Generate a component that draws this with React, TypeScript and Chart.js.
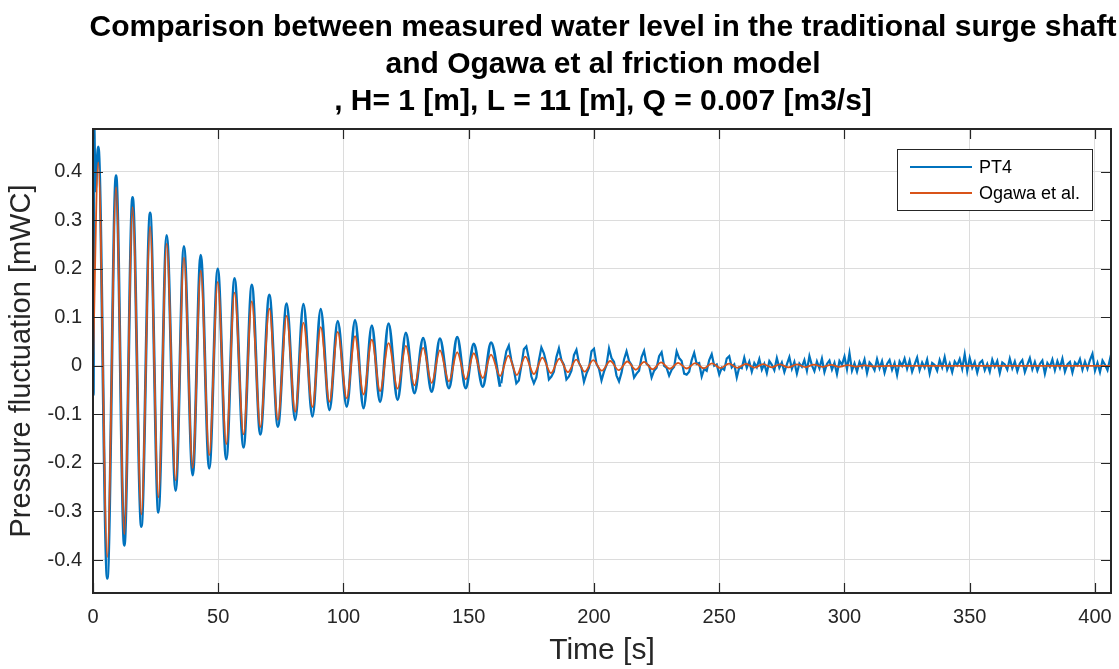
import React, { useEffect, useRef } from 'react';
import { Chart, registerables } from 'chart.js';

Chart.register(...registerables);

// ---------- data ----------
const titleLines = [
  'Comparison between measured water level in the traditional surge shaft',
  'and Ogawa et al friction model',
  ', H= 1 [m], L = 11 [m], Q = 0.007 [m3/s]',
];
const xLabel = 'Time [s]';
const yLabel = 'Pressure fluctuation [mWC]';
const legendLabels = ['PT4', 'Ogawa et al.'];

const xMin = 0;
const xMax = 406.4;
const xStep = 50;
const yMin = -0.468;
const yMax = 0.488;
const yStep = 0.1;

// Ogawa et al. model: extrema (peak / trough) times [s] and values [mWC]
const ogawaTimes = [
  0, 2.1, 5.7, 9.2, 12.5, 15.8, 19.3, 22.8, 26.1, 29.4, 33.0, 36.3, 39.8, 43.0, 46.4, 49.8, 53.2, 56.5, 60.1, 63.4,
  66.8, 70.4, 73.8, 77.3, 80.7, 84.0, 87.6, 90.9, 94.4, 97.7, 101.3, 104.6, 108.0, 111.3, 114.6, 118.0, 121.6, 124.9,
  128.3, 131.8, 135.2, 138.5, 142.1, 145.4, 148.8, 152.0, 155.6, 158.9, 162.5, 165.8, 169.2, 172.6, 176.0, 179.4,
  182.8, 186.2, 189.6, 192.9, 196.3, 199.7, 203.1, 206.5, 209.9, 213.3, 216.7, 220.0, 223.4, 226.8, 230.2, 233.6,
  237.0, 240.4, 243.8, 247.1, 250.5, 253.9, 257.3, 260.7, 264.1, 267.5, 270.9, 274.2, 277.6, 281.0, 284.4, 287.8,
  291.2, 294.6, 298.0, 301.3, 304.7, 308.1, 311.5, 318, 407,
];
const ogawaValues = [
  0, 0.419, -0.394, 0.368, -0.347, 0.327, -0.306, 0.287, -0.271, 0.252, -0.236, 0.223, -0.21, 0.196, -0.184, 0.173,
  -0.161, 0.151, -0.141, 0.133, -0.126, 0.118, -0.111, 0.103, -0.095, 0.089, -0.085, 0.08, -0.074, 0.07, -0.067,
  0.061, -0.059, 0.054, -0.052, 0.047, -0.047, 0.041, -0.04, 0.037, -0.035, 0.032, -0.032, 0.028, -0.028, 0.026,
  -0.025, 0.023, -0.021, 0.021, -0.019, 0.019, -0.017, 0.017, -0.015, 0.015, -0.013, 0.013, -0.012, 0.012, -0.01,
  0.01, -0.009, 0.009, -0.008, 0.008, -0.007, 0.007, -0.006, 0.006, -0.0055, 0.0055, -0.005, 0.005, -0.0045, 0.0045,
  -0.004, 0.004, -0.0035, 0.0035, -0.003, 0.003, -0.003, 0.003, -0.0025, 0.0025, -0.002, 0.002, -0.002, 0.0015,
  -0.0015, 0.001, -0.001, 0, 0,
];

// PT4 measurement: start transient and extrema up to 162.5 s
const pt4Times = [
  0, 0.15, 0.4, 0.9, 2.1, 5.7, 9.2, 12.5, 15.8, 19.3, 22.8, 26.1, 29.4, 33.0, 36.3, 39.8, 43.0, 46.4, 49.8, 53.2,
  56.5, 60.1, 63.4, 66.8, 70.4, 73.8, 77.3, 80.7, 84.0, 87.6, 90.9, 94.4, 97.7, 101.3, 104.6, 108.0, 111.3, 114.6,
  118.0, 121.6, 124.9, 128.3, 131.8, 135.2, 138.5, 142.1, 145.4, 148.8, 152.0, 155.6, 158.9, 162.5,
];
const pt4Values = [
  0, -0.06, 0.5, 0.36, 0.451, -0.438, 0.392, -0.37, 0.347, -0.331, 0.315, -0.302, 0.269, -0.257, 0.246, -0.225,
  0.228, -0.211, 0.2, -0.192, 0.18, -0.168, 0.167, -0.141, 0.146, -0.125, 0.128, -0.111, 0.127, -0.104, 0.117,
  -0.091, 0.092, -0.084, 0.094, -0.087, 0.083, -0.074, 0.087, -0.07, 0.068, -0.056, 0.057, -0.053, 0.056, -0.046,
  0.059, -0.046, 0.045, -0.043, 0.048, -0.043,
];

// PT4 measurement, sampled every second from 163 s to 407 s
const pt4TailStart = 163;
const pt4TailStep = 1;
const pt4TailValues = [
  -0.036, 0.002, 0.03,
  0.042, 0.012, -0.008, -0.036, -0.03, 0.0, 0.034, 0.04, 0.015, -0.022,
  -0.036, -0.024, 0.011, 0.038, 0.026, 0.006, -0.028, -0.022, -0.012, 0.018,
  0.036, 0.012, 0.002, -0.028, -0.022, -0.01, 0.022, 0.033, 0.006, -0.004,
  -0.033, -0.016, -0.004, 0.03, 0.035, 0.004, -0.006, -0.03, -0.012, 0.002,
  0.036, 0.016, 0.008, -0.02, -0.032, -0.014, 0.013, 0.03, 0.01, 0.002,
  -0.024, -0.016, -0.01, 0.018, 0.031, 0.004, 0.0, -0.024, -0.01, -0.004,
  0.02, 0.028, 0.0, -0.004, -0.02, -0.008, -0.002, 0.03, 0.016, 0.01,
  -0.016, -0.018, -0.012, 0.012, 0.027, 0.004, 0.006, -0.022, -0.006, -0.01,
  0.012, 0.024, 0.0, 0.003, -0.018, -0.004, -0.008, 0.015, 0.02, -0.003,
  0.003, -0.024, -0.003, -0.005, 0.017,
  -0.004, 0.009, -0.012, 0.006, -0.003, 0.014, -0.008, 0.004, -0.015, 0.01,
  0.002, -0.009, 0.016, -0.004, 0.007, -0.013, 0.003, 0.018, -0.006, 0.008,
  -0.016, 0.005, -0.002, 0.012, -0.01, 0.02, 0.001, -0.011, 0.009, -0.005,
  0.015, -0.013, 0.004, 0.011, -0.008, 0.006, -0.017, 0.01, 0.002, 0.019,
  -0.007, 0.026, -0.01, 0.005, -0.012, 0.008, -0.003, 0.013, -0.015, 0.007,
  0.001, -0.009, 0.014, -0.005, 0.01, -0.014, 0.004, 0.012, -0.008, 0.006,
  -0.019, 0.009, 0.0, 0.015, -0.006, 0.011, -0.012, 0.003, 0.017, -0.009,
  0.007, -0.004, 0.013, -0.016, 0.006, 0.002, -0.01, 0.012, -0.003, 0.018,
  -0.008, 0.005, -0.013, 0.009, 0.001, 0.014, -0.006, 0.024, -0.011, 0.016,
  -0.004, 0.008, -0.014, 0.006, 0.011, -0.009, 0.004, -0.012, 0.013, -0.002,
  0.01, -0.015, 0.007, 0.003, -0.008, 0.015, -0.005, 0.009, -0.011, 0.005,
  0.012, -0.013, 0.002, 0.016, -0.007, 0.008, -0.01, 0.004, 0.011, -0.016,
  0.006, -0.002, 0.013, -0.009, 0.01, -0.004, 0.015, -0.012, 0.003, 0.008,
  -0.014, 0.007, 0.001, 0.014, -0.008, 0.009, -0.006, 0.012, 0.025, -0.01,
  0.006, -0.013, 0.011, 0.002, -0.009, 0.014, -0.005,
];

// ---------- style ----------
const FONT = '"Liberation Sans", Arial, Helvetica, sans-serif';
const BLUE = '#0072BD';
const ORANGE = '#D95319';
const AXIS = '#262626';
const GRID = '#dcdcdc';

const framePlugin = {
  id: 'matlabFrame',
  afterDraw(chart: any) {
    const { ctx, chartArea: a, scales } = chart;
    const xs = scales.x;
    const ys = scales.y;
    ctx.save();
    // inward tick marks
    ctx.strokeStyle = AXIS;
    ctx.lineWidth = 1.2;
    const tl = 10;
    ctx.beginPath();
    xs.ticks.forEach((t: any) => {
      const px = Math.round(xs.getPixelForValue(t.value)) + 0.5;
      ctx.moveTo(px, a.bottom);
      ctx.lineTo(px, a.bottom - tl);
      ctx.moveTo(px, a.top);
      ctx.lineTo(px, a.top + tl);
    });
    ys.ticks.forEach((t: any) => {
      const py = Math.round(ys.getPixelForValue(t.value)) + 0.5;
      ctx.moveTo(a.left, py);
      ctx.lineTo(a.left + tl, py);
      ctx.moveTo(a.right, py);
      ctx.lineTo(a.right - tl, py);
    });
    ctx.stroke();
    // box
    ctx.lineWidth = 2;
    ctx.strokeRect(a.left, a.top, a.right - a.left, a.bottom - a.top);

    // title
    ctx.fillStyle = '#000';
    ctx.font = `bold 30px ${FONT}`;
    ctx.textAlign = 'center';
    ctx.textBaseline = 'middle';
    const cx = 603;
    titleLines.forEach((line, i) => ctx.fillText(line, cx, 28 + i * 37));

    // legend
    const lx = 897, ly = 149, lw = 195, lh = 61;
    ctx.fillStyle = '#fff';
    ctx.fillRect(lx, ly, lw, lh);
    ctx.strokeStyle = AXIS;
    ctx.lineWidth = 1;
    ctx.strokeRect(lx + 0.5, ly + 0.5, lw, lh);
    const colors = [BLUE, ORANGE];
    const rows = [167, 193];
    ctx.font = `18px ${FONT}`;
    ctx.textAlign = 'left';
    legendLabels.forEach((lab, i) => {
      ctx.strokeStyle = colors[i];
      ctx.lineWidth = 2;
      ctx.beginPath();
      ctx.moveTo(910, rows[i]);
      ctx.lineTo(972, rows[i]);
      ctx.stroke();
      ctx.fillStyle = '#000';
      ctx.fillText(lab, 979, rows[i] + 1.5);
    });
    ctx.restore();
  },
};

export default function App() {
  const ref = useRef<HTMLCanvasElement>(null);
  useEffect(() => {
    document.body.style.margin = '0';
    const ogawaData = ogawaTimes.map((t, i) => ({ x: t, y: ogawaValues[i] }));
    const pt4Data = pt4Times.map((t, i) => ({ x: t, y: pt4Values[i] }));
    const pt4TailData = pt4TailValues.map((v, i) => ({ x: pt4TailStart + i * pt4TailStep, y: v }));

    const chart = new Chart(ref.current as HTMLCanvasElement, {
      type: 'line',
      data: {
        datasets: [
          {
            label: legendLabels[0],
            data: pt4Data,
            borderColor: BLUE,
            backgroundColor: BLUE,
            borderWidth: 2.8,
            pointRadius: 0,
            cubicInterpolationMode: 'monotone',
            order: 2,
          },
          {
            label: legendLabels[1],
            data: ogawaData,
            borderColor: ORANGE,
            backgroundColor: ORANGE,
            borderWidth: 1.8,
            pointRadius: 0,
            cubicInterpolationMode: 'monotone',
            order: 0,
          },
          {
            label: 'PT4 (tail)',
            data: pt4TailData,
            borderColor: BLUE,
            backgroundColor: BLUE,
            borderWidth: 2.2,
            pointRadius: 0,
            tension: 0,
            order: 1,
          },
        ],
      },
      options: {
        responsive: false,
        animation: false,
        devicePixelRatio: 1,
        layout: { padding: { top: 129, right: 8, bottom: 0, left: 0 } },
        plugins: {
          legend: { display: false },
          title: { display: false },
          tooltip: { enabled: false },
        },
        scales: {
          x: {
            type: 'linear',
            min: xMin,
            max: xMax,
            afterFit: (s: any) => {
              s.height = 76;
              s.paddingLeft = 0;
              s.paddingRight = 0;
            },
            border: { display: false },
            grid: { color: GRID, lineWidth: 1, drawTicks: false },
            ticks: {
              stepSize: xStep,
              includeBounds: false,
              color: AXIS,
              font: { family: FONT, size: 20 },
              padding: 12,
              maxRotation: 0,
              callback: (v: any) => String(Math.round(Number(v))),
            },
            title: {
              display: true,
              text: xLabel,
              color: AXIS,
              font: { family: FONT, size: 30 },
              padding: { top: 0, bottom: 0 },
            },
          },
          y: {
            type: 'linear',
            min: yMin,
            max: yMax,
            afterFit: (s: any) => {
              s.width = 93;
              s.paddingTop = 0;
              s.paddingBottom = 0;
            },
            border: { display: false },
            grid: { color: GRID, lineWidth: 1, drawTicks: false },
            ticks: {
              stepSize: yStep,
              includeBounds: false,
              color: AXIS,
              font: { family: FONT, size: 20 },
              padding: 11,
              callback: (v: any) => {
                const n = Math.round(Number(v) * 10) / 10;
                return n === 0 ? '0' : String(n);
              },
            },
            title: {
              display: true,
              text: yLabel,
              color: AXIS,
              font: { family: FONT, size: 29 },
              padding: { top: 5, bottom: 0 },
            },
          },
        },
      },
      plugins: [framePlugin],
    });
    return () => chart.destroy();
  }, []);

  return (
    <div style={{ width: 1119, height: 669, background: '#fff' }}>
      <canvas ref={ref} width={1119} height={669} style={{ display: 'block' }} />
    </div>
  );
}
